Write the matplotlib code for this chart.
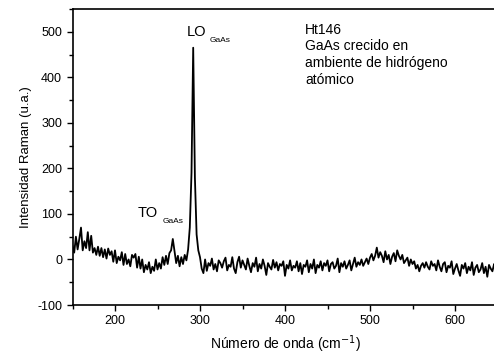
import numpy as np
import matplotlib.pyplot as plt
from matplotlib.ticker import MultipleLocator

plt.rcParams['font.family'] = ['Liberation Sans', 'DejaVu Sans']
plt.rcParams['axes.unicode_minus'] = False

# numero de onda, pasos de 2 cm-1
onda = np.arange(150, 651, 2)

intensidad = [
    30, 15, 50, 22, 45, 70, 20, 40, 25, 60,
    20, 52, 15, 25, 10, 28, 8, 25, 5, 22,
    2, 24, 10, 18, -5, 20, -8, 6, -2, 16,
    -12, 12, -10, 0, -15, 10, 4, 12, -18, 6,
    -20, 0, -28, -12, -22, -6, -30, -16, -25, 0,
    -22, -8, -20, 5, -12, 8, -10, 14, 20, 45,
    18, -8, 8, -15, 5, -10, 10, -2, 22, 70,
    190, 465, 180, 55, 20, 5, -20, -30, 0, -25,
    -8, -14, 2, -22, -10, -26, -2, -8, -18, -4,
    4, -24, -12, -16, 5, -20, -30, -6, 6, -18,
    -2, -12, -22, 2, -14, -28, -8, -16, 4, -26,
    -10, -20, 0, -14, -34, -8, -16, -22, -1, -18,
    -6, -24, -10, -14, -4, -36, -12, -20, -2, -24,
    -14, -18, -4, -26, -8, -32, -12, -16, -2, -28,
    -10, -20, 0, -30, -12, -18, -4, -24, -8, -14,
    -2, -26, -10, -6, -20, -14, 2, -28, -8, -16,
    -4, -20, -12, -2, -24, -10, 4, -16, -6, -12,
    0, -14, -6, 2, -10, 4, 12, -2, 8, 26,
    4, 16, 8, -6, 18, 0, 10, -10, 6, 14,
    -4, 20, 8, 0, 10, -8, -2, 4, -14, 0,
    -10, -4, -20, -12, -26, -14, -8, -18, -6, -16,
    -22, -4, -14, -10, -24, -2, -16, -26, -10, -6,
    -28, -14, -18, -4, -32, -20, -10, -24, -36, -12,
    -20, -8, -30, -16, -24, -6, -34, -18, -12, -28,
    -22, -8, -30, -16, -38, -12, -20, -26, -10, -18,
    -22,
]

fig = plt.figure(figsize=(4.94, 3.56), dpi=100)
ax = fig.add_axes([72.5/494, 51/356, 425/494, 296/356])

ax.plot(onda, intensidad, color='black', lw=1.3)

ax.set_xlim(150, 650)
ax.set_ylim(-100, 550)
ax.xaxis.set_major_locator(MultipleLocator(100))
ax.xaxis.set_minor_locator(MultipleLocator(50))
ax.yaxis.set_major_locator(MultipleLocator(100))
ax.yaxis.set_minor_locator(MultipleLocator(50))
ax.tick_params(which='both', direction='out', width=1, labelsize=9)
ax.tick_params(which='major', length=4)
ax.tick_params(which='minor', length=3)
ax.spines['right'].set_visible(False)
for s in ['left', 'bottom', 'top']:
    ax.spines[s].set_linewidth(1.2)

ax.set_xlabel('Número de onda (cm$^{-1}$)', fontsize=10)
ax.set_ylabel('Intensidad Raman (u.a.)', fontsize=9.5)

ax.text(284.7, 499, 'LO', fontsize=10.5, va='center')
ax.text(311.8, 481, 'GaAs', fontsize=6, va='center')
ax.text(227, 101, 'TO', fontsize=10.5, va='center')
ax.text(256.5, 83, 'GaAs', fontsize=6, va='center')

ax.text(423.5, 520, 'Ht146\nGaAs crecido en\nambiente de hidrógeno\natómico',
        fontsize=10, va='top', linespacing=1.25)

fig.savefig('out.png', dpi=100)
